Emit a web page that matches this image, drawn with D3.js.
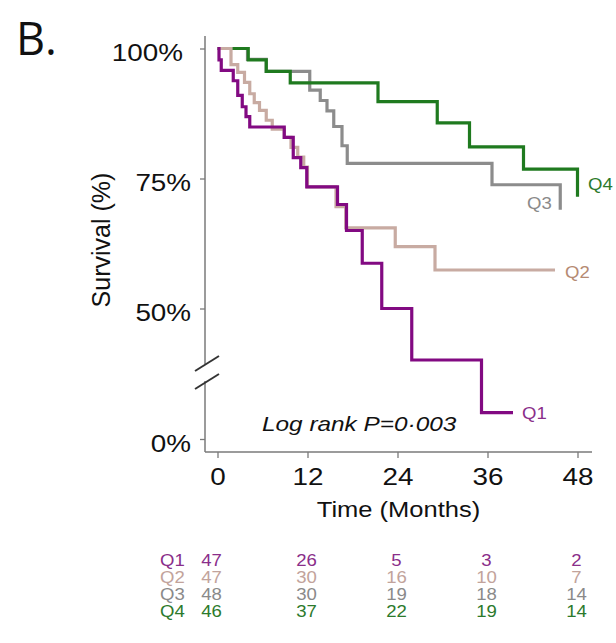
<!DOCTYPE html>
<html><head><meta charset="utf-8">
<script src="https://cdn.jsdelivr.net/npm/d3@7"></script>
<style>
html,body{margin:0;padding:0;background:#fff;}
svg{display:block;font-family:"Liberation Sans",Arial,Helvetica,sans-serif;}
</style></head>
<body><svg id="c" width="616" height="643"></svg>
<script>
// ---- data ----
const groups = ["Q1","Q2","Q3","Q4"];
const q1Curve = [[0,100],[0.2,97.8],[0.5,95.8],[2.1,93.8],[2.7,91.0],[3.3,88.8],[3.8,86.9],[4.3,84.9],[8.9,82.9],[10.1,79.0],[11.1,77.1],[11.9,73.4],[16.0,70.0],[17.2,65.0],[19.3,58.7],[21.9,50.0],[25.9,40.1],[35.2,29.9],[39.4,29.9]];
const q2Curve = [[0,100],[1.8,96.9],[2.7,95.4],[3.6,93.5],[4.3,91.3],[4.9,89.6],[5.6,88.1],[6.5,86.2],[7.3,84.5],[8.9,82.9],[9.8,81.0],[10.7,79.1],[11.5,77.2],[12.0,73.4],[15.8,69.6],[17.1,65.5],[23.7,61.9],[29.0,57.4],[45.0,57.4]];
const q3Curve = [[0,100],[4.0,97.9],[6.5,95.6],[12.3,92.0],[13.7,90.0],[14.6,88.0],[15.5,85.0],[16.6,81.3],[17.3,77.9],[36.6,73.8],[45.7,69.0]];
const q4Curve = [[0,100],[4.1,97.8],[6.5,95.6],[9.7,93.4],[21.4,89.8],[29.3,85.7],[33.6,81.1],[40.8,76.8],[48,71.5]];
const curves = {Q1:q1Curve, Q2:q2Curve, Q3:q3Curve, Q4:q4Curve};
const xTicks = [0,12,24,36,48];
const yTicks = [0,50,75,100];
const riskQ1 = [47,26,5,3,2];
const riskQ2 = [47,30,16,10,7];
const riskQ3 = [48,30,19,18,14];
const riskQ4 = [46,37,22,19,14];
const risk = {Q1:riskQ1, Q2:riskQ2, Q3:riskQ3, Q4:riskQ4};
const lineColors = {Q1:"#820a82", Q2:"#c8aba2", Q3:"#8c8c8c", Q4:"#1f7a1f"};
const textColors = {Q1:"#8a2e8a", Q2:"#c2a39b", Q3:"#8a8a8a", Q4:"#2c7a2c"};
const labelColors = {Q1:"#8a2e8a", Q2:"#b58a73", Q3:"#8a8a8a", Q4:"#2c7a2c"};

const SX = 1.16; // horizontal stretch of the original figure's text
const svg = d3.select("#c");

const x = d3.scaleLinear().domain([0,48]).range([217.5,577.5]);
const y = d3.scaleLinear().domain([0,30,100]).range([439,412.5,48.5]);

function txt(g, px, py, s, size, opts={}) {
  const t = g.append("text")
    .attr("transform", `translate(${px},${py}) scale(${opts.sx||SX},1)`)
    .attr("font-size", size)
    .attr("text-anchor", opts.anchor||"start")
    .attr("fill", opts.fill||"#111")
    .text(s);
  if (opts.italic) t.attr("font-style","italic");
  if (opts.family) t.attr("font-family", opts.family);
  return t;
}

// panel letter
txt(svg, 16, 55, "B.", 45, {family:"'Open Sans',Lato,sans-serif", sx:1.0});

// axes
const axisColor = "#7a7a7a";
const ax = svg.append("g").attr("transform","translate(205,0)");
ax.call(d3.axisLeft(y).tickValues(yTicks).tickSize(5).tickFormat(d=>d+"%"));
ax.select(".domain").remove();
ax.selectAll(".tick line").attr("stroke",axisColor).attr("stroke-width",1.3);
ax.selectAll(".tick text")
  .attr("font-size",24).attr("fill","#111")
  .attr("x", d => d===100 ? -19 : -12)
  .attr("dy", 0).attr("y", 12)
  .attr("transform", `scale(${SX},1)`)
  .attr("font-family","'Liberation Sans',Arial,sans-serif");
// y axis line with break gap
svg.append("line").attr("x1",205).attr("x2",205).attr("y1",36).attr("y2",364).attr("stroke",axisColor).attr("stroke-width",1.5);
svg.append("line").attr("x1",205).attr("x2",205).attr("y1",381).attr("y2",452).attr("stroke",axisColor).attr("stroke-width",1.5);
// break marks
[[371,356],[389,374]].forEach(([a,b])=>{
  svg.append("line").attr("x1",195).attr("y1",a).attr("x2",219).attr("y2",b).attr("stroke","#333").attr("stroke-width",2);
});

const bx = svg.append("g").attr("transform","translate(0,452)");
bx.call(d3.axisBottom(x).tickValues(xTicks).tickSize(6));
bx.select(".domain").remove();
bx.selectAll(".tick line").attr("stroke",axisColor).attr("stroke-width",1.3);
bx.selectAll(".tick text")
  .attr("font-size",24).attr("fill","#111")
  .attr("y",33).attr("dy",0)
  .attr("transform", `scale(${SX},1)`)
  .attr("font-family","'Liberation Sans',Arial,sans-serif");
svg.append("line").attr("x1",205).attr("x2",592).attr("y1",452).attr("y2",452).attr("stroke",axisColor).attr("stroke-width",1.5);

// axis titles
txt(svg, 398.5, 517, "Time (Months)", 22, {anchor:"middle"});
svg.append("text")
  .attr("transform","translate(110,240) rotate(-90)")
  .attr("font-size",25).attr("text-anchor","middle").attr("fill","#111")
  .text("Survival (%)");

// curves
const line = d3.line().x(d=>x(d[0])).y(d=>y(d[1])).curve(d3.curveStepAfter);
["Q3","Q4","Q2","Q1"].forEach(k=>{
  svg.append("path").datum(curves[k])
    .attr("d", line).attr("fill","none")
    .attr("stroke", lineColors[k]).attr("stroke-width",3.2)
    .attr("stroke-linejoin","miter");
});

// end labels
const endLabelPos = {Q1:[522,419], Q2:[565,278], Q3:[527,209], Q4:[588,190]};
groups.forEach(k=>{
  txt(svg, endLabelPos[k][0], endLabelPos[k][1], k, 16, {fill:labelColors[k]});
});

// log rank
txt(svg, 262, 431, "Log rank P=0·003", 21, {italic:true});

// risk table
const rowY = [566,583,600,617];
groups.forEach((k,i)=>{
  txt(svg, 160, rowY[i], k, 16, {fill:textColors[k]});
  risk[k].forEach((v,j)=>{
    const px = j===0 ? x(xTicks[j]) - 6 : x(xTicks[j]) - 1;
    txt(svg, px, rowY[i], String(v), 16, {fill:textColors[k], anchor:"middle"});
  });
});
</script></body></html>
